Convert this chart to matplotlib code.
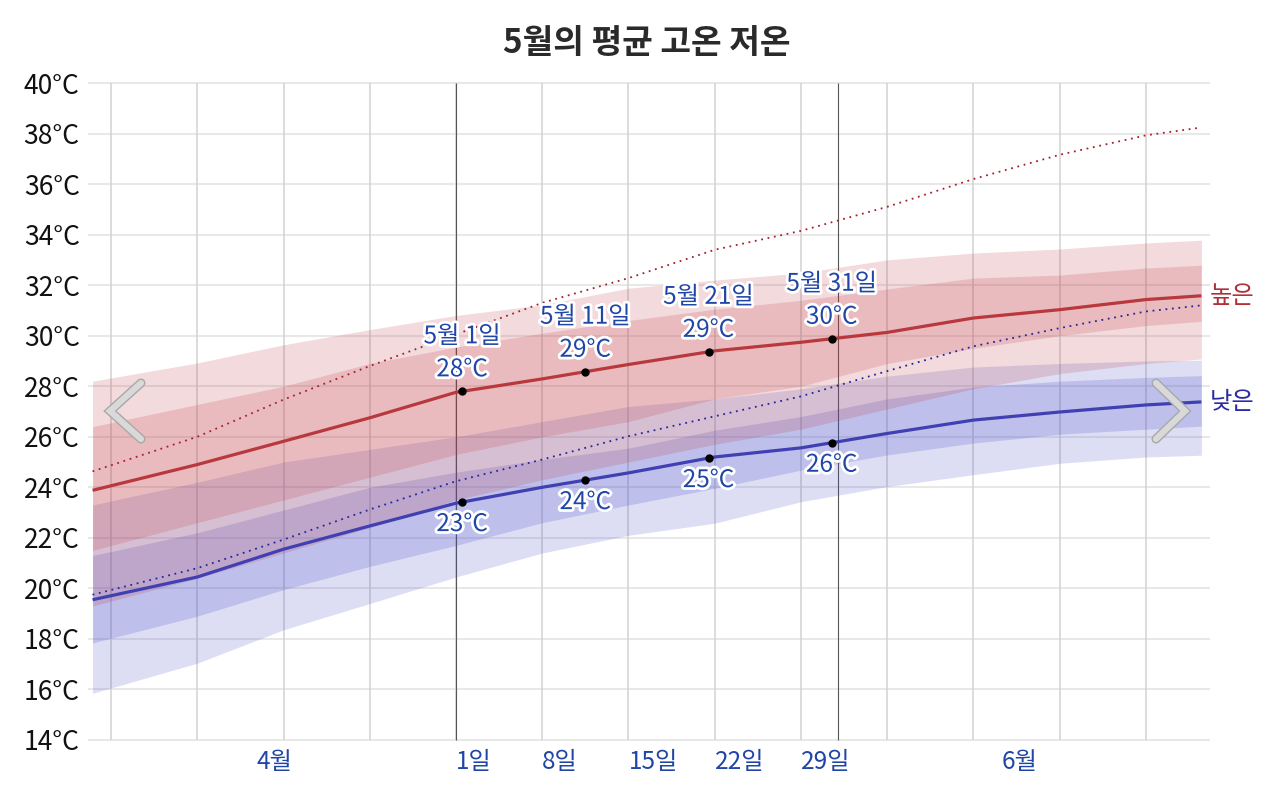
import matplotlib
matplotlib.use('Agg')
import matplotlib.pyplot as plt
import matplotlib.patheffects as pe
import numpy as np
from matplotlib.lines import Line2D

plt.rcParams['font.family'] = ['Noto Sans CJK KR', 'DejaVu Sans']

# days counted from the start of May 1
days = [-29.5, -21, -14, -7, 0, 7, 14, 21, 28, 35, 42, 49, 56, 60.5]

high_mean = [23.88, 24.9, 25.82, 26.75, 27.76, 28.29, 28.86, 29.4, 29.74, 30.13, 30.7, 31.03, 31.43, 31.58]
low_mean = [19.55, 20.45, 21.55, 22.47, 23.37, 24.0, 24.57, 25.2, 25.56, 26.13, 26.66, 26.98, 27.26, 27.38]
high_feel = [24.63, 26.0, 27.47, 28.8, 30.05, 31.3, 32.28, 33.4, 34.15, 35.1, 36.2, 37.16, 37.93, 38.24]
low_feel = [19.75, 20.8, 21.93, 23.12, 24.24, 25.1, 26.02, 26.81, 27.6, 28.6, 29.58, 30.3, 30.96, 31.2]

high_p90 = [28.2, 28.92, 29.64, 30.24, 30.8, 31.22, 31.88, 32.2, 32.48, 33.0, 33.27, 33.43, 33.67, 33.78]
high_p75 = [26.4, 27.28, 28.0, 28.9, 29.55, 30.1, 30.6, 31.05, 31.4, 31.85, 32.28, 32.4, 32.68, 32.79]
high_p25 = [21.5, 22.6, 23.5, 24.4, 25.3, 26.0, 26.6, 27.5, 28.0, 28.9, 29.5, 30.0, 30.4, 30.57]
high_p10 = [19.3, 20.4, 21.4, 22.4, 23.5, 24.3, 25.0, 25.7, 26.3, 27.1, 27.9, 28.5, 28.9, 29.08]
low_p90 = [23.3, 24.2, 25.0, 25.5, 26.0, 26.6, 27.2, 27.5, 27.9, 28.4, 28.76, 28.9, 29.0, 29.03]
low_p75 = [21.3, 22.2, 23.1, 24.0, 24.6, 25.1, 25.55, 26.26, 26.8, 27.5, 27.97, 28.2, 28.35, 28.42]
low_p25 = [17.84, 18.9, 19.95, 20.87, 21.7, 22.6, 23.3, 23.96, 24.68, 25.28, 25.75, 26.1, 26.3, 26.42]
low_p10 = [15.85, 17.04, 18.36, 19.4, 20.45, 21.4, 22.1, 22.58, 23.43, 24.03, 24.5, 24.95, 25.2, 25.27]

mark_days = [0.5, 10.5, 20.5, 30.5]
mark_names = ['5월 1일', '5월 11일', '5월 21일', '5월 31일']

week_lines = [-28, -21, -14, -7, 0, 7, 14, 21, 28, 35, 42, 49, 56]
month_lines = [0, 31]
tick_pos = [-14.75, 0, 7, 14, 21, 28, 45.75]
tick_labels = ['4월', '1일', '8일', '15일', '22일', '29일', '6월']
y_ticks = list(range(14, 41, 2))

RED = '#b8383d'
BLUE = '#4040b2'
TXT_BLUE = '#1f45a6'
FS = 17.5

fig = plt.figure(figsize=(12.8, 7.93), dpi=100)
ax = fig.add_axes([88 / 1280, 1 - 742.5 / 793, (1210 - 88) / 1280, 662.0 / 793])
ax.set_xlim((88 - 456) / 12.32, (1210 - 456) / 12.32)
ax.set_ylim(13.9, 40.1)
for s in ax.spines.values():
    s.set_visible(False)

for t in y_ticks:
    ax.axhline(t, color='#e8e8e8', lw=1.5, zorder=0)
ax.vlines(week_lines, 14, 40, color='#d2d2d2', lw=1.1, zorder=0.5)
ax.vlines(month_lines, 14, 40, color='#555555', lw=0.8, zorder=0.6)

# percentile bands
ax.fill_between(days, low_p10, low_p90, color=(0.27, 0.29, 0.78), alpha=0.18, lw=0, zorder=1)
ax.fill_between(days, low_p25, low_p75, color=(0.27, 0.29, 0.78), alpha=0.2, lw=0, zorder=1)
ax.fill_between(days, high_p10, high_p90, color=(0.75, 0.2, 0.24), alpha=0.18, lw=0, zorder=1)
ax.fill_between(days, high_p25, high_p75, color=(0.75, 0.2, 0.24), alpha=0.18, lw=0, zorder=1)

ax.plot(days, high_feel, color='#a3202b', lw=1.3, ls=(0, (1, 2.6)), zorder=2)
ax.plot(days, low_feel, color='#24249e', lw=1.3, ls=(0, (1, 2.6)), zorder=2)
ax.plot(days, high_mean, color=RED, lw=2.3, zorder=3, solid_capstyle='butt')
ax.plot(days, low_mean, color=BLUE, lw=2.3, zorder=3, solid_capstyle='butt')

halo = [pe.withStroke(linewidth=4, foreground='white')]
for d, name in zip(mark_days, mark_names):
    hv = np.interp(d, days, high_mean)
    lv = np.interp(d, days, low_mean)
    ax.plot([d, d], [hv, lv], 'o', color='black', ms=5, zorder=5, ls='none')
    ax.annotate(name, (d, hv), xytext=(0, 55), textcoords='offset pixels',
                ha='center', va='center', fontsize=FS, color=TXT_BLUE,
                path_effects=halo, zorder=6)
    ax.annotate('%d°C' % round(hv), (d, hv), xytext=(0, 22), textcoords='offset pixels',
                ha='center', va='center', fontsize=FS, color=TXT_BLUE,
                path_effects=halo, zorder=6)
    ax.annotate('%d°C' % round(lv), (d, lv), xytext=(0, -22), textcoords='offset pixels',
                ha='center', va='center', fontsize=FS, color=TXT_BLUE,
                path_effects=halo, zorder=6)

ax.annotate('높은', (days[-1], high_mean[-1]), xytext=(8, 0), textcoords='offset pixels',
            ha='left', va='center', fontsize=FS, color='#b03038', annotation_clip=False)
ax.annotate('낮은', (days[-1], low_mean[-1]), xytext=(8, 0), textcoords='offset pixels',
            ha='left', va='center', fontsize=FS, color='#2a2aa3', annotation_clip=False)

ax.set_yticks(y_ticks, ['%d°C' % t for t in y_ticks])
ax.set_xticks(tick_pos, tick_labels)
ax.tick_params(axis='y', length=0, pad=6, labelsize=19, labelcolor='#111111')
ax.tick_params(axis='x', length=0, pad=5, labelsize=FS, labelcolor=TXT_BLUE)
for lab in ax.get_xticklabels():
    if lab.get_text().endswith('일'):
        lab.set_horizontalalignment('left')

fig.text(647 / 1280, 1 - 43 / 793, '5월의 평균 고온 저온', ha='center', va='center',
         fontsize=24, fontweight='bold', color='#2a2a2a')

# navigation chevrons
chev_style = dict(color='#d9d9d9', lw=4.5, solid_capstyle='round', solid_joinstyle='miter',
                  transform=fig.transFigure, zorder=10,
                  path_effects=[pe.withStroke(linewidth=6.5, foreground='#a8a8a8')])
for xs, ys in [([141, 110, 141], [383, 411, 439]), ([1156, 1185, 1156], [383, 411, 439])]:
    fig.add_artist(Line2D([x / 1280 for x in xs], [1 - y / 793 for y in ys], **chev_style))

fig.savefig('out.png', dpi=100)
